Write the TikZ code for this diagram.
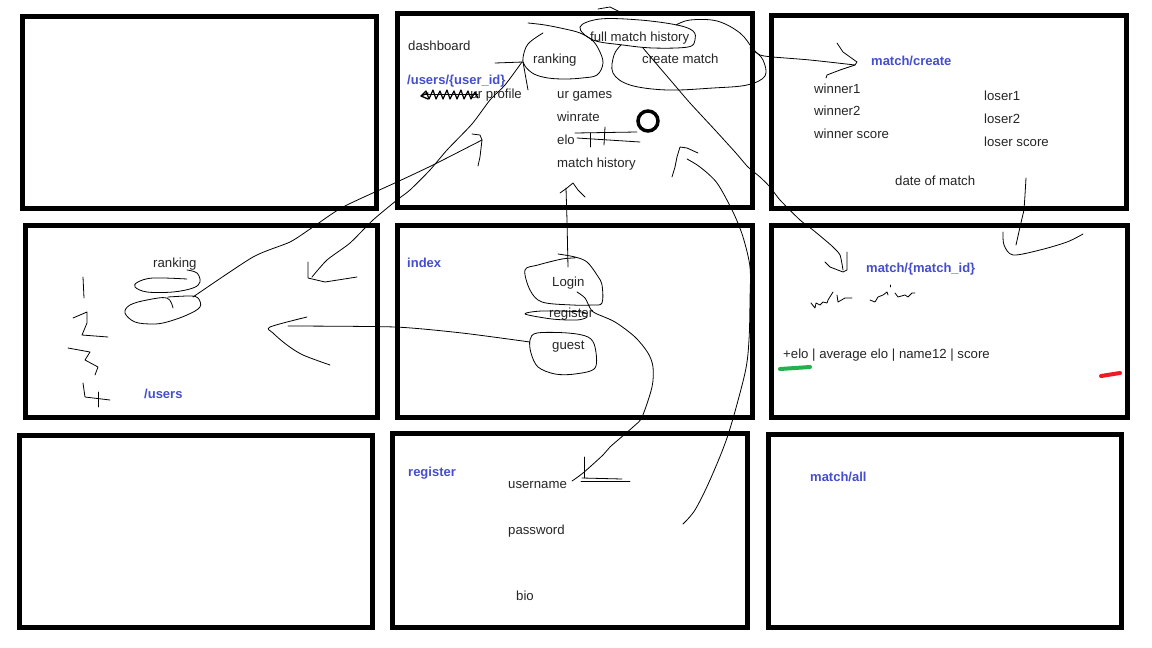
\documentclass[tikz,border=0pt]{standalone}
\usepackage{fontspec}
\setmainfont{Liberation Sans}
\definecolor{routeblue}{RGB}{68,78,206}
\definecolor{markgreen}{RGB}{34,177,76}
\definecolor{markred}{RGB}{237,28,36}
\tikzset{
  panel/.style={line width=5pt},
  pen/.style={line width=0.8pt, line join=round, line cap=round},
  lbl/.style={font=\fontsize{13.2}{15}\selectfont, text=black!85, anchor=base west, inner sep=0pt},
  route/.style={lbl, font=\fontsize{13}{15}\selectfont\bfseries, text=routeblue},
}
\begin{document}
\begin{tikzpicture}[x={(1pt,0)}, y={(0,-1pt)}]
  \useasboundingbox[fill=white] (0,0) rectangle (1152,648);

  % Page panels
  \foreach \xa/\ya/\xb/\yb in {22/16/376/208, 397/13/752/207, 771/15/1126/208,
      25/225/377/417, 397/225/752/417, 771/225/1127/417,
      19/435/372/627, 392/433/747/627, 768/434/1121/627}
    \draw[panel] (\xa,\ya) rectangle (\xb,\yb);

  % Dashboard / profile page
  \node[lbl] (dash) at (408,50) {dashboard};
  \node[route] (userid) at (407,84) {/users/\{user\_id\}};
  \node[lbl, anchor=base east] (urprof) at (522,98) {ur profile};
  \node[lbl] (rank) at (533,63) {ranking};
  \node[lbl] (fullhist) at (590,41) {full match history};
  \node[lbl] (create) at (642,63) {create match};
  \node[lbl] (games) at (557,98) {ur games};
  \node[lbl] (winrate) at (557,121) {winrate};
  \node[lbl] (elo) at (557,144) {elo};
  \node[lbl] (hist) at (557,167) {match history};

  % Scribbled-out word
  \draw[pen, line width=1.3pt] plot coordinates {(428,93) (421,96) (428,99)};
  \draw[pen, line width=1.2pt] plot coordinates {
    (421,96) (426,91) (429,99) (433,90) (436,99) (440,91) (443,99) (447,90) (450,99)
    (454,91) (457,99) (461,90) (464,99) (468,91) (471,99) (475,92) (478,98)};
  \draw[pen] (424,94) -- (478,94);

  % Loops round the dashboard links
  \draw[pen] plot[smooth, tension=0.6] coordinates {
    (528,23) (545,25) (565,29) (580,33) (592,40) (599,50) (603,63) (597,75)
    (582,78) (565,79) (548,78) (534,74) (525,66) (523,58) (528,44) (543,33)};
  \draw[pen] plot[smooth cycle, tension=0.6] coordinates {
    (580,27) (600,19) (640,20) (677,25) (693,31) (695,40) (688,47) (653,48) (623,45) (593,40)};
  \draw[pen] plot[smooth, tension=0.6] coordinates {
    (621,45) (614,55) (613,73) (630,85) (667,90) (713,88) (747,85) (765,76)
    (763,60) (753,49) (740,33) (717,21) (690,20) (676,25)};
  \draw[pen] plot coordinates {(598,9) (610,7) (620,12)};
  \draw[pen] (495,63) -- (523,62) -- (528,90);

  % Crossed-out elo and the circle
  \draw[pen] (575,133) -- (637,132);
  \draw[pen] (577,138) -- (640,142);
  \draw[pen] (590,133) -- (590,147);
  \draw[pen] (605,127) -- (604,145);
  \draw[line width=3.5pt] (648,121) circle (10);

  % Match create page
  \node[route] (mcreate) at (871,65) {match/create};
  \node[lbl] (win1) at (814,93) {winner1};
  \node[lbl] (win2) at (814,115) {winner2};
  \node[lbl] (winscore) at (814,138) {winner score};
  \node[lbl] (lose1) at (984,100) {loser1};
  \node[lbl] (lose2) at (984,123) {loser2};
  \node[lbl] (losescore) at (984,146) {loser score};
  \node[lbl] (date) at (895,185) {date of match};

  % Users page
  \node[lbl] (urank) at (153,267) {ranking};
  \node[route] (users) at (144,398) {/users};
  \draw[pen] plot[smooth, tension=0.6] coordinates {
    (187,270) (197,273) (200,282) (193,288) (173,292) (147,292) (135,287) (138,282) (153,278) (187,279)};
  \draw[pen] plot[smooth, tension=0.6] coordinates {
    (173,308) (167,298) (147,300) (130,305) (125,313) (135,322) (153,324) (167,322)
    (187,315) (200,307) (198,298) (190,296) (168,297)};
  % hand-written 1 2 3 4
  \draw[pen] (83,277) -- (84,298);
  \draw[pen] plot coordinates {(73,318) (87,312) (87,323) (82,335) (108,337)};
  \draw[pen] plot coordinates {(68,348) (90,352) (85,360) (98,367) (95,375)};
  \draw[pen] plot coordinates {(83,383) (85,397) (110,400)};
  \draw[pen] (98,392) -- (98,407);

  % Index page
  \node[route] (index) at (407,267) {index};
  \node[lbl] (login) at (552,286) {Login};
  \node[lbl] (reg) at (549,317) {register};
  \node[lbl] (guest) at (552,349) {guest};
  \draw[pen] plot[smooth, tension=0.55] coordinates {
    (558,254) (575,257) (587,262) (597,275) (602,285) (602,303) (592,305) (572,305)
    (542,302) (530,290) (525,270) (538,265) (562,259) (575,258)};
  \draw[pen] plot[smooth cycle, tension=0.5] coordinates {
    (525,314) (542,311) (582,312) (587,317) (577,320) (552,319)};
  \draw[pen] plot[smooth cycle, tension=0.55] coordinates {
    (530,340) (537,333) (568,333) (588,337) (595,347) (595,368) (575,374) (555,374) (538,367) (531,353)};

  % Match detail page
  \node[route] (mdetail) at (866,272) {match/\{match\_id\}};
  \node[lbl] (stats) at (783,358) {+elo | average elo | name12 | score};
  \draw[pen] plot coordinates {(811,303) (815,308) (816,303) (820,305) (823,302) (827,303) (828,300) (833,292)};
  \draw[pen] plot coordinates {(837,295) (838,302) (845,298) (852,298)};
  \draw[pen] plot coordinates {(870,300) (875,302) (878,297) (883,295) (887,292) (888,295)};
  \draw[pen] (890,285) -- (890,287);
  \draw[pen] plot coordinates {(895,293) (898,297) (905,295) (908,297) (912,293) (915,293)};
  \draw[markgreen, line width=4pt, line cap=round] (780,369) -- (810,367);
  \draw[markred, line width=4pt, line cap=round] (1101,376) -- (1120,373);

  % Register page
  \node[route] (register) at (408,476) {register};
  \node[lbl] (user) at (508,488) {username};
  \node[lbl] (pass) at (508,534) {password};
  \node[lbl] (bio) at (516,600) {bio};

  % Match list page
  \node[route] (mall) at (810,481) {match/all};

  % Arrow: dashboard ranking to users page
  \draw[pen] plot[smooth, tension=0.4] coordinates {
    (522,62) (505,85) (490,100) (472,124) (447,150) (430,170) (410,190) (397,200)
    (373,220) (350,243) (327,260) (312,277)};
  \draw[pen] plot coordinates {(308,262) (308,278) (325,282) (357,277)};

  % Arrow: users ranking up to the profile
  \draw[pen] plot[smooth, tension=0.4] coordinates {
    (193,297) (253,257) (290,242) (313,227) (343,207) (397,182) (433,165) (482,140)};
  \draw[pen] plot coordinates {(472,134) (480,135) (482,140) (480,157) (478,166)};

  % Arrow: guest to users page
  \draw[pen] plot[smooth, tension=0.4] coordinates {(530,342) (462,333) (395,327) (288,326)};
  \draw[pen] plot[smooth, tension=0.5] coordinates {(307,317) (270,327) (273,333) (287,345) (303,355) (330,365)};

  % Arrow: login up to the dashboard
  \draw[pen] (568,267) -- (567,220) -- (566,188);
  \draw[pen] plot coordinates {(560,193) (567,188) (573,183) (578,190) (585,197)};

  % Arrow: register to the register page
  \draw[pen] plot[smooth, tension=0.5] coordinates {
    (577,292) (585,298) (590,308) (595,313) (615,322) (635,337) (648,353) (653,367)
    (652,387) (642,417) (633,427) (610,447) (603,455) (583,473) (572,481)};
  \draw[pen] (584,457) -- (584,478);
  \draw[pen] (581,481) -- (630,481);
  \draw[pen] (582,478) -- (622,479);

  % Arrow: register page back up to the dashboard
  \draw[pen] plot[smooth, tension=0.5] coordinates {
    (683,524) (695,510) (710,480) (728,435) (745,373) (749,340) (750,300) (750,267)
    (743,237) (733,212) (717,183) (700,167) (687,159)};
  \draw[pen] plot coordinates {(698,153) (687,148) (680,147) (677,157) (675,167) (672,177)};

  % Arrow: create match to match/create
  \draw[pen] plot[smooth, tension=0.4] coordinates {(750,48) (760,55) (773,57) (810,60) (855,65)};
  \draw[pen] plot coordinates {(837,43) (843,52) (857,62) (855,65) (840,70) (827,75) (826,78)};

  % Arrow: full history to match/{match_id}
  \draw[pen] plot[smooth, tension=0.4] coordinates {
    (643,48) (660,68) (672,82) (690,103) (715,130) (735,152) (748,167) (760,177)
    (770,187) (780,200) (800,220) (813,230) (825,240) (833,247) (840,255) (843,270)};
  \draw[pen] plot coordinates {(847,252) (847,270) (843,272) (830,267) (825,262)};

  % Arrow: date of match down to match detail
  \draw[pen] plot coordinates {(1026,178) (1025,195) (1024,210) (1020,227) (1016,245)};
  \draw[pen] plot[smooth, tension=0.5] coordinates {(1003,232) (1004,245) (1013,255) (1040,250) (1067,242) (1083,234)};
\end{tikzpicture}
\end{document}
